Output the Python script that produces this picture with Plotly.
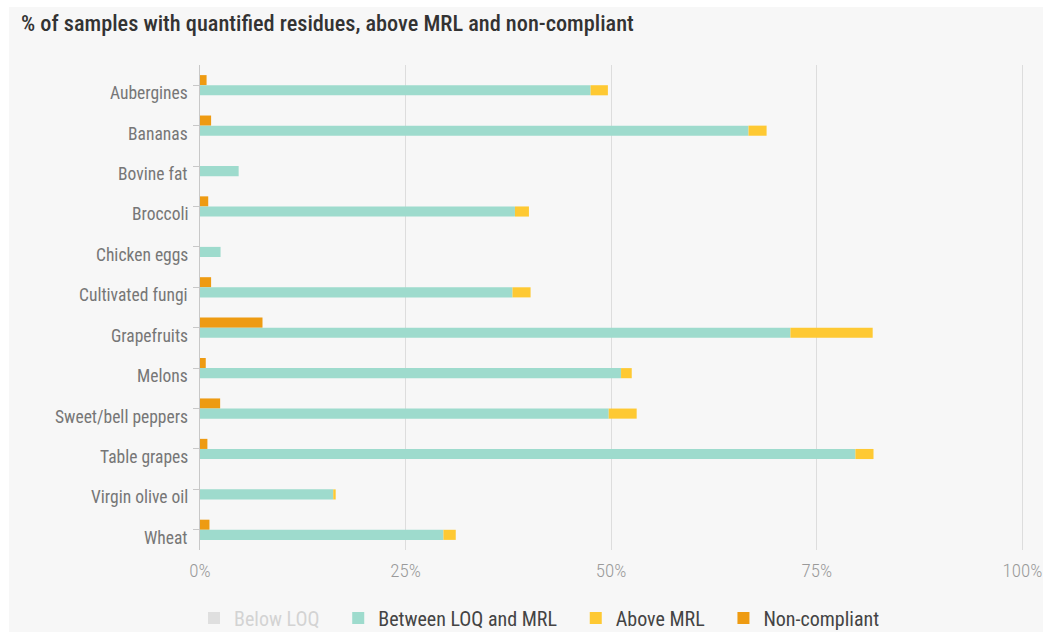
import plotly.graph_objects as go

categories = ["Aubergines", "Bananas", "Bovine fat", "Broccoli", "Chicken eggs",
              "Cultivated fungi", "Grapefruits", "Melons", "Sweet/bell peppers",
              "Table grapes", "Virgin olive oil", "Wheat"]
between_loq_mrl = [47.5, 66.7, 4.7, 38.3, 2.5, 38.0, 71.8, 51.2, 49.7, 79.7, 16.2, 29.6]
above_mrl = [2.1, 2.2, 0.0, 1.7, 0.0, 2.2, 10.0, 1.3, 3.4, 2.2, 0.3, 1.5]
non_compliant = [0.8, 1.35, 0.0, 1.0, 0.0, 1.35, 7.6, 0.7, 2.45, 0.9, 0.0, 1.15]
below_loq = [50.4, 31.1, 95.3, 60.0, 97.5, 59.8, 18.2, 47.5, 46.9, 18.1, 83.5, 68.9]
x_ticks = [0, 25, 50, 75, 100]
x_tick_labels = ["0%", "25%", "50%", "75%", "100%"]

TITLE = "% of samples with quantified residues, above MRL and non-compliant"
FONT = "Roboto Condensed, Liberation Sans Narrow, Arial Narrow, Roboto, sans-serif"
PAD = "&nbsp;&nbsp;&nbsp;"

C_TEAL = "#9edbcd"
C_YELLOW = "#fec933"
C_ORANGE = "#ee9b12"
C_GREY = "#c8c8c8"

fig = go.Figure()
fig.add_trace(go.Bar(name="Non-compliant" + PAD, y=categories, x=non_compliant, orientation="h",
                     marker=dict(color=C_ORANGE, line=dict(width=0)), offsetgroup="nc",
                     legendrank=4))
fig.add_trace(go.Bar(name="<span style='color:#b0b0b0'>Below LOQ</span>" + PAD, y=categories,
                     x=below_loq, orientation="h",
                     marker=dict(color=C_GREY, line=dict(width=0)), offsetgroup="s",
                     visible="legendonly", legendrank=1))
fig.add_trace(go.Bar(name="Between LOQ and MRL" + PAD, y=categories, x=between_loq_mrl,
                     orientation="h", marker=dict(color=C_TEAL, line=dict(width=0)),
                     offsetgroup="s", legendrank=2))
fig.add_trace(go.Bar(name="Above MRL" + PAD, y=categories, x=above_mrl, base=between_loq_mrl,
                     orientation="h", marker=dict(color=C_YELLOW, line=dict(width=0)),
                     offsetgroup="s", legendrank=3))

# category labels (rendered slightly below the tick, as in the reference)
for c in categories:
    fig.add_annotation(x=0, xref="paper", y=c, yref="y", text=c, showarrow=False,
                       xanchor="right", yanchor="middle", xshift=-10, yshift=-8,
                       font=dict(family=FONT, size=17.5, color="#767676"))

# grey panel with thin white frame
fig.add_shape(type="rect", xref="paper", yref="paper",
              x0=(9 - 200) / 824, x1=(1043 - 200) / 824,
              y0=(550 - 640) / 485, y1=(550 - 7) / 485,
              fillcolor="#f7f7f7", line=dict(width=0), layer="below")

fig.update_layout(
    width=1048, height=632,
    margin=dict(l=200, r=24, t=65, b=82, autoexpand=False),
    paper_bgcolor="#ffffff",
    plot_bgcolor="rgba(0,0,0,0)",
    barmode="group", bargap=0.5, bargroupgap=0,
    title=dict(text=TITLE, x=21 / 1048, xanchor="left", xref="container",
               y=1 - 23 / 632, yanchor="middle", yref="container",
               font=dict(family=FONT, size=22.3, color="#333333", weight=500)),
    font=dict(family=FONT),
    showlegend=True,
    legend=dict(orientation="h", x=-6 / 824, xanchor="left", y=(550 - 618) / 485,
                yanchor="middle", font=dict(family=FONT, size=20, color="#444444"),
                bgcolor="rgba(0,0,0,0)", itemclick=False, traceorder="normal"),
    xaxis=dict(range=[0, 100.2], tickvals=x_ticks, ticktext=x_tick_labels,
               showgrid=True, gridcolor="#dddddd", gridwidth=1, zeroline=False,
               showline=False, ticks="", ticklabelstandoff=7, automargin=False,
               tickfont=dict(family=FONT, size=19, color="#9a9a9a", weight=300)),
    yaxis=dict(categoryorder="array", categoryarray=categories, autorange="reversed",
               showticklabels=False, ticks="outside", ticklen=6, tickcolor="#c8c8c8",
               showline=True, linecolor="#c8c8c8", linewidth=1, showgrid=False,
               zeroline=False, automargin=False),
)

fig.write_html("out.html", config={"displayModeBar": False},
               post_script="document.body.style.margin='0';")
